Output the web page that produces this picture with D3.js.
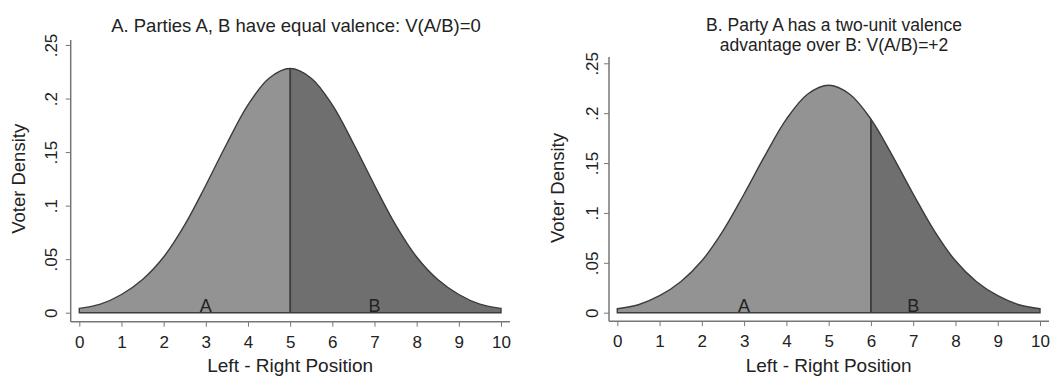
<!DOCTYPE html>
<html>
<head>
<meta charset="utf-8">
<script src="https://cdn.jsdelivr.net/npm/d3@7/dist/d3.min.js"></script>
<style>
  body { margin: 0; background: #fff; }
  svg { display: block; font-family: "Liberation Sans", Arial, sans-serif; }
</style>
</head>
<body>
<svg id="chart" width="1059" height="376"></svg>
<script>
// positions on the left-right scale
const positions = [0, 0.5, 1, 1.5, 2, 2.5, 3, 3.5, 4, 4.5, 5, 5.5, 6, 6.5, 7, 7.5, 8, 8.5, 9, 9.5, 10];
// voter density
const density = [0.004, 0.008, 0.017, 0.031, 0.052, 0.082, 0.119, 0.158, 0.194, 0.219, 0.228,
                 0.219, 0.194, 0.158, 0.119, 0.082, 0.052, 0.031, 0.017, 0.008, 0.004];
const xTicks = [0, 1, 2, 3, 4, 5, 6, 7, 8, 9, 10];
const yTicks = [0, 0.05, 0.1, 0.15, 0.2, 0.25];
const yTickLabels = ["0", ".05", ".1", ".15", ".2", ".25"];
const partyLabels = ["A", "B"];
const partyPos = [3, 7];
const panelTitles = [
  ["A. Parties A, B have equal valence: V(A/B)=0"],
  ["B. Party A has a two-unit valence", "advantage over B: V(A/B)=+2"]
];
const cutPoints = [5, 6];

const data = positions.map((p, i) => ({ x: p, y: density[i] }));

const svg = d3.select("#chart");

const panels = [
  { x0: 79.3, x1: 501, yTop: 45, yBase: 312.7, axisX: 70.7, axisY: 321.7, axisRight: 510, axisTop: 40,
    titleX: 296, titleY: [31.5], titleSize: 18.5, yTitleX: 25, yLabX: 52 },
  { x0: 617.3, x1: 1040, yTop: 63.3, yBase: 312.7, axisX: 609, axisY: 321.2, axisRight: 1049, axisTop: 57,
    titleX: 834, titleY: [30.5, 50.5], titleSize: 17.5, yTitleX: 564, yLabX: 592 }
];

panels.forEach((p, k) => {
  const g = svg.append("g");
  const x = d3.scaleLinear().domain([0, 10]).range([p.x0, p.x1]);
  const y = d3.scaleLinear().domain([0, 0.25]).range([p.yBase, p.yTop]);

  const area = d3.area()
    .x(d => x(d.x))
    .y0(y(0))
    .y1(d => y(d.y))
    .curve(d3.curveCatmullRom);

  const clipId = "clipB" + k;
  g.append("clipPath").attr("id", clipId)
    .append("rect")
    .attr("x", x(cutPoints[k]))
    .attr("y", 0)
    .attr("width", x(10) - x(cutPoints[k]) + 5)
    .attr("height", 376);

  g.append("path").datum(data)
    .attr("d", area)
    .attr("fill", "#939393");

  g.append("path").datum(data)
    .attr("d", area)
    .attr("fill", "#6f6f6f")
    .attr("clip-path", "url(#" + clipId + ")");

  g.append("path").datum(data)
    .attr("d", area)
    .attr("fill", "none")
    .attr("stroke", "#3c3c3c")
    .attr("stroke-width", 1.4);

  const cutY = density[positions.indexOf(cutPoints[k])];
  g.append("line")
    .attr("x1", x(cutPoints[k])).attr("x2", x(cutPoints[k]))
    .attr("y1", y(0)).attr("y2", y(cutY))
    .attr("stroke", "#3c3c3c")
    .attr("stroke-width", 1.8);

  // party labels
  g.selectAll(".party")
    .data(partyLabels)
    .enter().append("text")
    .attr("x", (d, i) => x(partyPos[i]))
    .attr("y", y(0) - 0.5)
    .attr("text-anchor", "middle")
    .attr("font-size", 18)
    .attr("fill", "#222")
    .text(d => d);

  // x axis
  const xAxis = g.append("g")
    .attr("transform", "translate(0," + p.axisY + ")")
    .call(d3.axisBottom(x).tickValues(xTicks).tickSize(5).tickPadding(9).tickSizeOuter(0));
  xAxis.select(".domain").remove();
  xAxis.append("line")
    .attr("x1", p.axisX).attr("x2", p.axisRight)
    .attr("stroke", "#777").attr("stroke-width", 1.5);
  xAxis.selectAll(".tick line").attr("stroke", "#777");
  xAxis.selectAll(".tick text").attr("font-size", 17).attr("fill", "#222")
    .attr("font-family", "Liberation Sans, Arial, sans-serif");

  // y axis
  const yAxis = g.append("g")
    .attr("transform", "translate(" + p.axisX + ",0)")
    .call(d3.axisLeft(y).tickValues(yTicks).tickSize(5).tickFormat((d, i) => yTickLabels[i]));
  yAxis.select(".domain").remove();
  yAxis.append("line")
    .attr("y1", p.axisTop).attr("y2", p.axisY)
    .attr("stroke", "#777").attr("stroke-width", 1.5);
  yAxis.selectAll(".tick line").attr("stroke", "#777");
  yAxis.selectAll(".tick text")
    .attr("x", null).attr("dy", null)
    .attr("text-anchor", "middle")
    .attr("dominant-baseline", "central")
    .attr("transform", "translate(" + (p.yLabX - p.axisX) + ",0) rotate(-90)")
    .attr("font-size", 17).attr("fill", "#222")
    .attr("font-family", "Liberation Sans, Arial, sans-serif");

  // axis titles
  g.append("text")
    .attr("x", (p.x0 + p.x1) / 2)
    .attr("y", 371.5)
    .attr("text-anchor", "middle")
    .attr("font-size", 19)
    .attr("fill", "#222")
    .text("Left - Right Position");

  g.append("text")
    .attr("transform", "translate(" + p.yTitleX + "," + ((p.yTop + p.yBase) / 2) + ") rotate(-90)")
    .attr("text-anchor", "middle")
    .attr("font-size", 18.5)
    .attr("fill", "#222")
    .text("Voter Density");

  // title
  panelTitles[k].forEach((t, i) => {
    g.append("text")
      .attr("x", p.titleX)
      .attr("y", p.titleY[i])
      .attr("text-anchor", "middle")
      .attr("font-size", p.titleSize)
      .attr("fill", "#222")
      .text(t);
  });
});
</script>
</body>
</html>
